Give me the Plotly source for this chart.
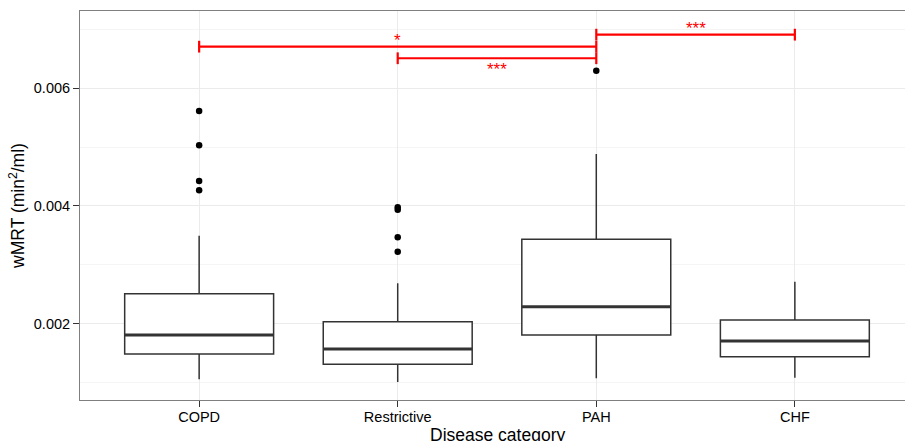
import plotly.graph_objects as go

# ---- data ----
categories = ["COPD", "Restrictive", "PAH", "CHF"]
q1 = [0.001485, 0.00131, 0.001808, 0.001439]
median = [0.001808, 0.00157, 0.002289, 0.001706]
q3 = [0.00251, 0.002034, 0.003434, 0.002063]
lower_whisker = [0.001055, 0.00101, 0.001072, 0.001082]
upper_whisker = [0.003495, 0.002686, 0.004884, 0.002714]
outliers = {
    "COPD": [0.005614, 0.005031, 0.004425, 0.004267],
    "Restrictive": [0.003978, 0.003937, 0.003468, 0.003223],
    "PAH": [0.006299],
    "CHF": [],
}
# significance brackets (category index from / to), bar level, label, label level
sig_from = [1, 2, 3]
sig_to = [3, 3, 4]
sig_y = [0.006707, 0.00651, 0.006911]
sig_labels = ["*", "***", "***"]
sig_label_y = [0.006804, 0.006321, 0.007008]

y_ticks = [0.002, 0.004, 0.006]
y_tick_labels = ["0.002", "0.004", "0.006"]
y_minor = [0.001, 0.003, 0.005, 0.007]
x_title = "Disease category"
y_title = "wMRT (min<sup>2</sup>/ml)"

# ---- styling ----
BOX_W = 0.75
CAP = 0.0001
DARK = "#333333"
RED = "#FF0000"
FONT = "Liberation Sans, Arial, sans-serif"

fig = go.Figure()
xs = list(range(1, len(categories) + 1))

for i, cat in enumerate(categories):
    fig.add_trace(go.Box(
        x=[xs[i]], q1=[q1[i]], median=[median[i]], q3=[q3[i]],
        lowerfence=[lower_whisker[i]], upperfence=[upper_whisker[i]],
        width=BOX_W, whiskerwidth=0, boxpoints=False,
        fillcolor="white", line=dict(color=DARK, width=1.5),
        showlegend=False, hoverinfo="skip",
    ))

# thick median lines (ggplot style)
mx, my = [], []
for i in range(len(categories)):
    mx += [xs[i] - BOX_W / 2, xs[i] + BOX_W / 2, None]
    my += [median[i], median[i], None]
fig.add_trace(go.Scatter(x=mx, y=my, mode="lines",
                         line=dict(color=DARK, width=3), showlegend=False, hoverinfo="skip"))

# outliers
ox, oy = [], []
for i, cat in enumerate(categories):
    for v in outliers[cat]:
        ox.append(xs[i])
        oy.append(v)
fig.add_trace(go.Scatter(x=ox, y=oy, mode="markers",
                         marker=dict(color="black", size=6.5), showlegend=False, hoverinfo="skip"))

# significance brackets
bx, by = [], []
for a, b, y in zip(sig_from, sig_to, sig_y):
    bx += [a, a, None, a, b, None, b, b, None]
    by += [y - CAP, y + CAP, None, y, y, None, y - CAP, y + CAP, None]
fig.add_trace(go.Scatter(x=bx, y=by, mode="lines",
                         line=dict(color=RED, width=2.2), showlegend=False, hoverinfo="skip"))

for a, b, lab, ly in zip(sig_from, sig_to, sig_labels, sig_label_y):
    fig.add_annotation(x=(a + b) / 2, y=ly, text=lab, showarrow=False,
                       font=dict(color=RED, size=17, family=FONT),
                       xanchor="center", yanchor="middle")

# x-axis title (annotation so it can sit partly past the bottom edge, as in the original)
fig.add_annotation(x=0.5, xref="x domain", y=0, yref="paper",
                   text=x_title, showarrow=False, xanchor="center", yanchor="middle",
                   yshift=-34.5, font=dict(size=17.5, color="black", family=FONT))

# ggplot discrete scale expansion: 0.6 units either side; the panel runs past the right edge
x_left = 0.4
x_right = 4.6

fig.update_layout(
    width=920, height=441,
    margin=dict(l=80, r=5.5, t=11, b=41),
    paper_bgcolor="white", plot_bgcolor="white",
    font=dict(family=FONT, color="black"),
    xaxis=dict(
        range=[x_left, x_right], tickmode="array", tickvals=xs, ticktext=categories,
        showgrid=True, gridcolor="#ebebeb", gridwidth=1, zeroline=False,
        showline=True, linecolor="#7f7f7f", linewidth=1, mirror=True,
        ticks="outside", ticklen=6, tickcolor=DARK, tickwidth=1,
        ticklabelstandoff=-2,
        tickfont=dict(size=14.5, color="black"),
        automargin=False,
    ),
    yaxis=dict(
        range=[0.000703, 0.007313], tickmode="array", tickvals=y_ticks, ticktext=y_tick_labels,
        showgrid=True, gridcolor="#ebebeb", gridwidth=1, zeroline=False,
        minor=dict(tickmode="array", tickvals=y_minor, showgrid=True, gridcolor="#f5f5f5", ticks=""),
        showline=True, linecolor="#7f7f7f", linewidth=1, mirror=True,
        ticks="outside", ticklen=6, tickcolor=DARK, tickwidth=1,
        tickfont=dict(size=14.5, color="black"),
        title=dict(text=y_title, font=dict(size=17.5, color="black"), standoff=4),
        automargin=False,
    ),
)

fig.write_html(
    "out.html",
    config={"displayModeBar": False},
    post_script="document.body.style.margin='0';document.body.style.overflow='hidden';",
)
